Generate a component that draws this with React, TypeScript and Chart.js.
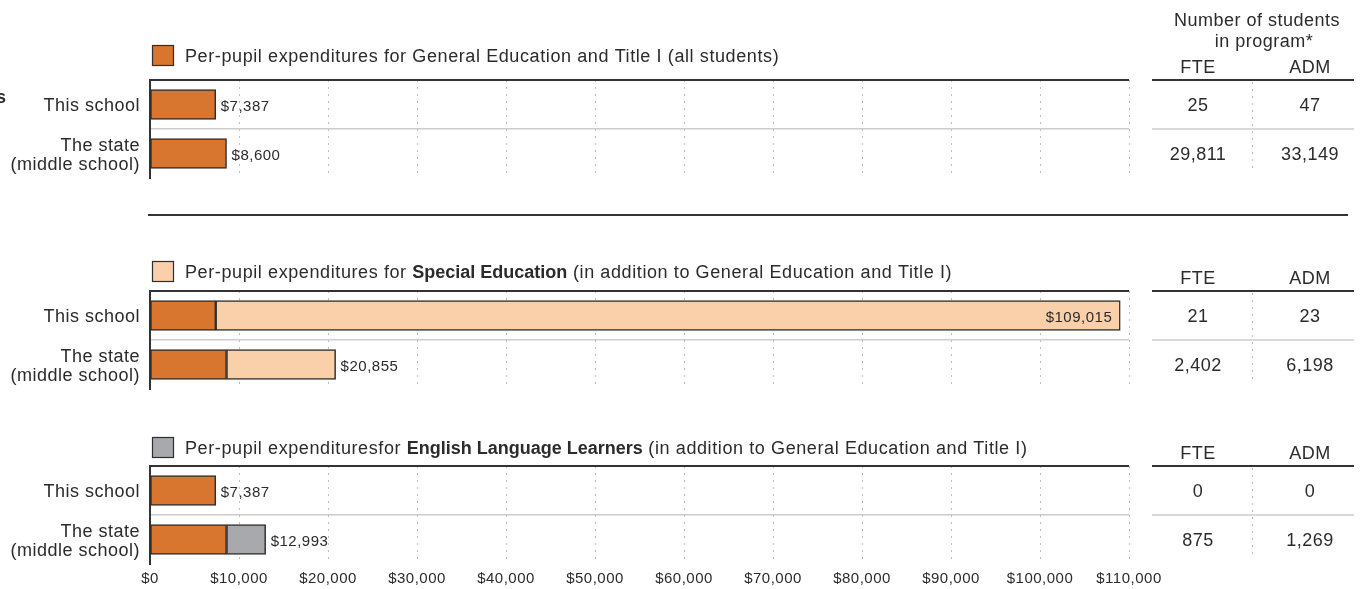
import React, { useEffect, useRef } from 'react';
import { Chart, registerables } from 'chart.js';

Chart.register(...registerables);

const FONT = "'Liberation Sans', Arial, Helvetica, sans-serif";
const TEXT = '#2b2b2b';
const ORANGE = '#D8762F';
const PEACH = '#F9D0A9';
const GRAY = '#A8A9AD';
const BAR_BORDER = '#2e2e2e';

// ---- data ----
const rowLabels: (string | string[])[] = ['This school', ['The state', '(middle school)']];
const xMin = 0;
const xMax = 110000;
const xStep = 10000;

const generalEd = [7387, 8600];
const specialEdTotal = [109015, 20855];
const ellTotal = [7387, 12993];

const fteGeneral = [25, 29811];
const admGeneral = [47, 33149];
const fteSpecial = [21, 2402];
const admSpecial = [23, 6198];
const fteEll = [0, 875];
const admEll = [0, 1269];

const tableHeader = ['Number of students', 'in program*'];
const tableColumns = ['FTE', 'ADM'];

const legendGeneral = [{ t: 'Per-pupil expenditures for General Education and Title I (all students)', b: false }];
const legendSpecial = [
  { t: 'Per-pupil expenditures for ', b: false },
  { t: 'Special Education', b: true },
  { t: ' (in addition to General Education and Title I)', b: false },
];
const legendEll = [
  { t: 'Per-pupil expendituresfor ', b: false },
  { t: 'English Language Learners', b: true },
  { t: ' (in addition to General Education and Title I)', b: false },
];

const fmtMoney = (v: number) => '$' + Math.round(v).toLocaleString('en-US');
const fmtNum = (v: number) => v.toLocaleString('en-US');

type Seg = { t: string; b: boolean };
type PanelDef = {
  top: number;
  height: number;
  padTop: number;
  padBottom: number;
  xHeight: number;
  showX: boolean;
  datasets: any[];
  totals: number[];
  fte: number[];
  adm: number[];
  legend: Seg[];
  legendColor: string;
  legendGap: number;
  header?: boolean;
  separatorY?: number;
};

function line(ctx: CanvasRenderingContext2D, x1: number, y1: number, x2: number, y2: number) {
  ctx.beginPath();
  ctx.moveTo(x1, y1);
  ctx.lineTo(x2, y2);
  ctx.stroke();
}

function makePlugin(p: PanelDef) {
  return {
    id: 'panelDecor',
    beforeDraw(chart: any) {
      chart.ctx.letterSpacing = '0.5px';
    },
    afterDatasetsDraw(chart: any) {
      const ctx: CanvasRenderingContext2D = chart.ctx;
      const last = chart.data.datasets.length - 1;
      const meta = chart.getDatasetMeta(last);
      ctx.save();
      (ctx as any).letterSpacing = '0.5px';
      ctx.font = `15px ${FONT}`;
      ctx.fillStyle = TEXT;
      ctx.textBaseline = 'middle';
      meta.data.forEach((el: any, i: number) => {
        const text = fmtMoney(p.totals[i]);
        const w = ctx.measureText(text).width;
        const y = el.y + 2;
        if (el.x + 6 + w > chart.chartArea.right) {
          ctx.textAlign = 'right';
          ctx.fillText(text, el.x - 8, y);
        } else {
          ctx.textAlign = 'left';
          ctx.fillText(text, el.x + 5, y);
        }
      });
      ctx.restore();
    },
    afterDraw(chart: any) {
      const ctx: CanvasRenderingContext2D = chart.ctx;
      const { top, bottom } = chart.chartArea;
      const yScale = chart.scales.y;
      const c0 = yScale.getPixelForTick(0);
      const c1 = yScale.getPixelForTick(1);
      const mid = (c0 + c1) / 2;
      ctx.save();

      // legend
      const sqTop = top - p.legendGap - 21;
      ctx.fillStyle = p.legendColor;
      ctx.fillRect(152, sqTop, 22, 21);
      ctx.strokeStyle = BAR_BORDER;
      ctx.lineWidth = 1.2;
      ctx.strokeRect(152.5, sqTop + 0.5, 21, 20);
      let x = 185;
      ctx.fillStyle = TEXT;
      ctx.textAlign = 'left';
      ctx.textBaseline = 'middle';
      p.legend.forEach((s) => {
        (ctx as any).letterSpacing = s.b ? '0px' : '0.6px';
        ctx.font = `${s.b ? 'bold ' : ''}18px ${FONT}`;
        ctx.fillText(s.t, x, sqTop + 12);
        x += ctx.measureText(s.t).width;
      });
      (ctx as any).letterSpacing = '0.5px';

      // table
      const L = 1152, R = 1354, SEP = 1252, C1 = 1198, C2 = 1310;
      ctx.strokeStyle = '#333';
      ctx.lineWidth = 2;
      line(ctx, L, Math.round(top), R, Math.round(top));
      ctx.strokeStyle = '#cccccc';
      ctx.lineWidth = 1.5;
      line(ctx, L, mid, R, mid);
      ctx.strokeStyle = '#bdbdbd';
      ctx.lineWidth = 1;
      ctx.setLineDash([2, 5]);
      line(ctx, SEP + 0.5, top + 2, SEP + 0.5, bottom - 6);
      ctx.setLineDash([]);

      ctx.font = `18px ${FONT}`;
      ctx.fillStyle = TEXT;
      ctx.textAlign = 'center';
      ctx.fillText(tableColumns[0], C1, top - 12);
      ctx.fillText(tableColumns[1], C2, top - 12);
      [c0, c1].forEach((cy, i) => {
        ctx.fillText(fmtNum(p.fte[i]), C1, cy + 2);
        ctx.fillText(fmtNum(p.adm[i]), C2, cy + 2);
      });

      if (p.header) {
        ctx.fillText(tableHeader[0], 1257, 21);
        ctx.fillText(tableHeader[1], 1264, 42);
        // clipped fragment at the far left edge
        ctx.font = `bold 18px ${FONT}`;
        ctx.textAlign = 'left';
        ctx.fillText('s', -4, 98);
      }

      if (p.separatorY !== undefined) {
        ctx.strokeStyle = '#333';
        ctx.lineWidth = 2;
        line(ctx, 148, p.separatorY, 1348, p.separatorY);
      }
      ctx.restore();
    },
  };
}

function Panel({ def }: { def: PanelDef }) {
  const ref = useRef<HTMLCanvasElement>(null);
  useEffect(() => {
    if (!ref.current) return;
    const p = def;
    const chart = new Chart(ref.current, {
      type: 'bar',
      data: { labels: rowLabels as any, datasets: p.datasets },
      plugins: [makePlugin(p) as any],
      options: {
        animation: false,
        responsive: false,
        indexAxis: 'y',
        layout: { padding: { top: p.padTop, bottom: p.padBottom, left: 0, right: 1360 - 1129 } },
        plugins: { legend: { display: false }, tooltip: { enabled: false } },
        scales: {
          x: {
            stacked: true,
            min: xMin,
            max: xMax,
            ticks: {
              display: p.showX,
              stepSize: xStep,
              autoSkip: false,
              maxRotation: 0,
              padding: 6,
              color: TEXT,
              font: { size: 15, family: FONT },
              callback: (v: any) => fmtMoney(Number(v)),
            },
            grid: { color: '#bdbdbd', lineWidth: 1, drawTicks: false },
            border: { display: false, dash: [2, 5] },
            afterFit: (s: any) => {
              s.height = p.xHeight;
            },
          },
          y: {
            stacked: true,
            ticks: {
              padding: 10,
              labelOffset: 2,
              color: TEXT,
              font: { size: 18, family: FONT, lineHeight: 1.1 },
            },
            grid: {
              offset: true,
              drawTicks: false,
              color: (c: any) => (c.index === 0 ? '#333333' : c.index === 1 ? '#cccccc' : 'rgba(0,0,0,0)'),
              lineWidth: (c: any) => (c.index === 0 ? 2 : 1.5),
            },
            border: { display: true, color: '#333333', width: 2 },
            afterFit: (s: any) => {
              s.width = 150;
            },
          },
        },
      } as any,
    });
    return () => chart.destroy();
  }, []);
  return (
    <canvas
      ref={ref}
      width={1360}
      height={def.height}
      style={{ position: 'absolute', left: 0, top: def.top, display: 'block' }}
    />
  );
}

const barStyle = { borderColor: BAR_BORDER, borderWidth: 1.5, borderSkipped: false, barThickness: 30 };

const panels: PanelDef[] = [
  {
    top: 0,
    height: 230,
    padTop: 80,
    padBottom: 52,
    xHeight: 0,
    showX: false,
    datasets: [{ ...barStyle, label: 'General Education and Title I', data: generalEd, backgroundColor: ORANGE }],
    totals: generalEd,
    fte: fteGeneral,
    adm: admGeneral,
    legend: legendGeneral,
    legendColor: ORANGE,
    legendGap: 14,
    header: true,
    separatorY: 215,
  },
  {
    top: 230,
    height: 190,
    padTop: 61,
    padBottom: 31,
    xHeight: 0,
    showX: false,
    datasets: [
      { ...barStyle, label: 'General Education and Title I', data: generalEd, backgroundColor: ORANGE },
      {
        ...barStyle,
        label: 'Special Education',
        data: specialEdTotal.map((t, i) => t - generalEd[i]),
        backgroundColor: PEACH,
      },
    ],
    totals: specialEdTotal,
    fte: fteSpecial,
    adm: admSpecial,
    legend: legendSpecial,
    legendColor: PEACH,
    legendGap: 9,
  },
  {
    top: 420,
    height: 169,
    padTop: 46,
    padBottom: 0,
    xHeight: 25,
    showX: true,
    datasets: [
      { ...barStyle, label: 'General Education and Title I', data: generalEd, backgroundColor: ORANGE },
      {
        ...barStyle,
        label: 'English Language Learners',
        data: ellTotal.map((t, i) => t - generalEd[i]),
        backgroundColor: GRAY,
      },
    ],
    totals: ellTotal,
    fte: fteEll,
    adm: admEll,
    legend: legendEll,
    legendColor: GRAY,
    legendGap: 8,
  },
];

export default function App() {
  return (
    <div
      style={{
        position: 'absolute',
        left: 0,
        top: 0,
        width: 1360,
        height: 589,
        background: '#ffffff',
        overflow: 'hidden',
      }}
    >
      {panels.map((d, i) => (
        <Panel key={i} def={d} />
      ))}
    </div>
  );
}
